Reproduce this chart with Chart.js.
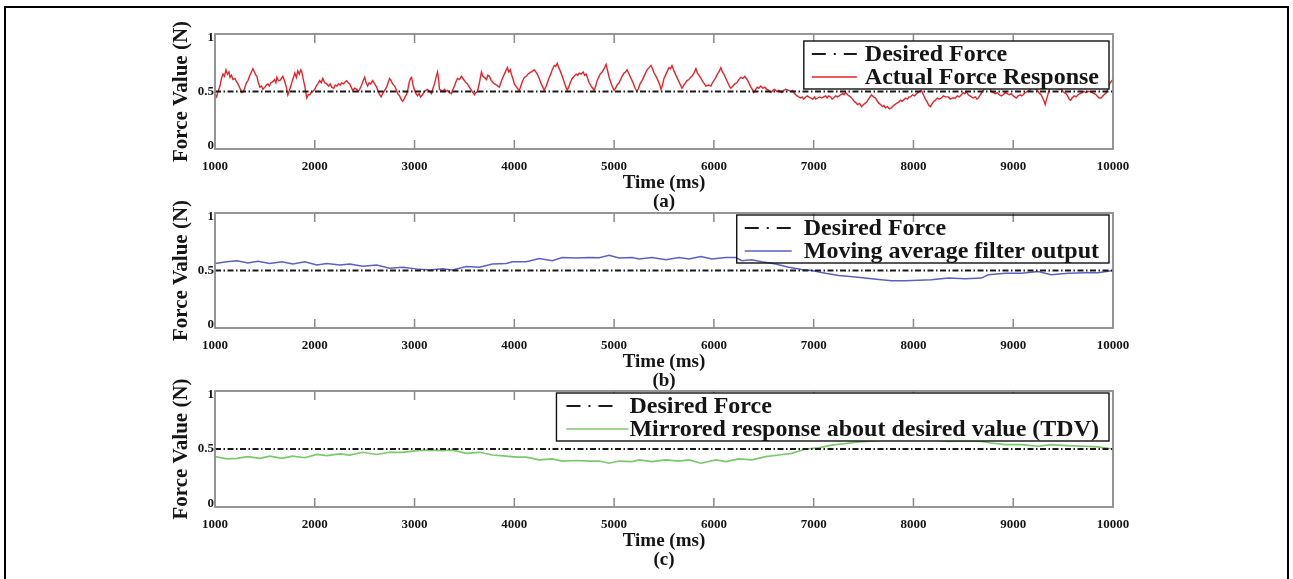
<!DOCTYPE html>
<html lang="en">
<head>
<meta charset="UTF-8">
<title>Force Response</title>
<script src="https://cdn.jsdelivr.net/npm/chart.js"></script>
<style>
    body {
        margin: 0;
        background: #fff;
        width: 1293px;
        height: 579px;
        overflow: hidden;
        position: relative;
    }

    .frame {
        position: absolute;
        left: 4px;
        top: 6px;
        width: 1281px;
        height: 600px;
        border: 2.5px solid #000;
    }

    canvas {
        position: absolute;
        left: 0;
        top: 0;
    }
</style>
</head>
<body>
<div class="frame"></div>
<canvas id="chartA" width="1293" height="579"></canvas>
<canvas id="chartB" width="1293" height="579"></canvas>
<canvas id="chartC" width="1293" height="579"></canvas>

<script>
// axes
const xTicks = [1000, 2000, 3000, 4000, 5000, 6000, 7000, 8000, 9000, 10000];
const yTicks = [0, 0.5, 1];

// desired force (constant reference)
const desiredTimes = [1000, 10000];
const desiredForce = [0.5, 0.5];

// (a) actual force response
const timeA = [
    1000, 1015, 1030, 1050, 1065, 1080, 1095, 1110, 1125, 1140, 1150, 1165, 1180, 1200, 1215, 1230, 1250, 1270, 1285, 1300,
    1315, 1330, 1345, 1360, 1380, 1395, 1410, 1420, 1435, 1450, 1465, 1480, 1500, 1515, 1530, 1545, 1560, 1580, 1595, 1610,
    1620, 1635, 1650, 1665, 1680, 1700, 1715, 1730, 1745, 1760, 1775, 1790, 1800, 1815, 1830, 1845, 1860, 1870, 1885, 1900,
    1910, 1920, 1935, 1950, 1965, 1980, 2000, 2015, 2030, 2050, 2065, 2080, 2100, 2120, 2140, 2155, 2170, 2190, 2205, 2220,
    2240, 2255, 2270, 2290, 2305, 2320, 2335, 2350, 2365, 2380, 2400, 2420, 2435, 2450, 2470, 2485, 2500, 2515, 2530, 2545,
    2560, 2580, 2600, 2620, 2635, 2650, 2665, 2680, 2700, 2720, 2735, 2750, 2765, 2780, 2800, 2815, 2830, 2850, 2865, 2880,
    2895, 2910, 2920, 2935, 2950, 2960, 2970, 2985, 3000, 3015, 3030, 3045, 3060, 3080, 3100, 3115, 3130, 3150, 3170, 3185,
    3200, 3215, 3230, 3240, 3250, 3265, 3280, 3300, 3315, 3330, 3350, 3370, 3385, 3400, 3415, 3430, 3450, 3470, 3485, 3500,
    3515, 3530, 3550, 3570, 3585, 3600, 3615, 3630, 3650, 3670, 3685, 3700, 3720, 3735, 3750, 3765, 3780, 3800, 3820, 3835,
    3850, 3865, 3880, 3900, 3915, 3930, 3945, 3960, 3970, 3985, 4000, 4015, 4030, 4050, 4065, 4080, 4100, 4120, 4135, 4150,
    4170, 4185, 4200, 4215, 4230, 4250, 4270, 4285, 4300, 4320, 4335, 4350, 4365, 4380, 4400, 4415, 4430, 4445, 4460, 4480,
    4495, 4510, 4530, 4545, 4560, 4580, 4600, 4620, 4635, 4650, 4670, 4690, 4705, 4720, 4735, 4750, 4770, 4785, 4800, 4815,
    4830, 4845, 4860, 4880, 4900, 4910, 4920, 4935, 4950, 4965, 4980, 5000, 5015, 5030, 5050, 5065, 5080, 5100, 5115, 5130,
    5145, 5160, 5180, 5195, 5210, 5230, 5245, 5260, 5280, 5295, 5310, 5330, 5350, 5370, 5385, 5400, 5420, 5440, 5455, 5470,
    5485, 5500, 5520, 5535, 5550, 5565, 5580, 5600, 5615, 5630, 5650, 5665, 5680, 5700, 5715, 5730, 5750, 5765, 5780, 5800,
    5820, 5835, 5850, 5870, 5890, 5905, 5920, 5945, 5970, 5985, 6000, 6020, 6035, 6050, 6070, 6085, 6100, 6120, 6140, 6155,
    6170, 6190, 6210, 6230, 6250, 6270, 6290, 6310, 6325, 6340, 6355, 6370, 6385, 6400, 6420, 6435, 6450, 6470, 6490, 6510,
    6530, 6550, 6570, 6590, 6610, 6630, 6650, 6680, 6700, 6720, 6750, 6770, 6790, 6800, 6820, 6835, 6850, 6870, 6885, 6900,
    6920, 6935, 6950, 6970, 6990, 7010, 7020, 7040, 7060, 7080, 7100, 7120, 7135, 7150, 7170, 7185, 7200, 7220, 7240, 7255,
    7270, 7290, 7305, 7320, 7340, 7355, 7370, 7390, 7405, 7420, 7440, 7460, 7480, 7500, 7515, 7530, 7550, 7565, 7580, 7600,
    7620, 7640, 7655, 7670, 7690, 7705, 7720, 7740, 7760, 7780, 7800, 7815, 7830, 7850, 7870, 7885, 7900, 7920, 7940, 7955,
    7970, 7990, 8010, 8030, 8045, 8060, 8080, 8095, 8110, 8120, 8140, 8155, 8170, 8190, 8205, 8220, 8240, 8260, 8280, 8300,
    8320, 8350, 8370, 8390, 8420, 8440, 8460, 8480, 8500, 8515, 8530, 8550, 8565, 8580, 8600, 8620, 8635, 8650, 8670, 8685,
    8700, 8720, 8735, 8750, 8765, 8780, 8800, 8820, 8840, 8860, 8880, 8900, 8920, 8940, 8960, 8980, 9000, 9015, 9030, 9050,
    9070, 9085, 9100, 9120, 9140, 9160, 9175, 9190, 9210, 9230, 9250, 9265, 9280, 9295, 9310, 9320, 9335, 9350, 9365, 9380,
    9400, 9420, 9440, 9460, 9480, 9500, 9515, 9530, 9545, 9560, 9575, 9590, 9610, 9630, 9650, 9670, 9690, 9710, 9730, 9750,
    9770, 9790, 9810, 9830, 9850, 9865, 9880, 9900, 9920, 9935, 9950, 9965, 9980, 10000
];
const forceA = [
    .47, .45, .50, .55, .62, .66, .64, .70, .66, .68, .63, .65, .61, .62, .59, .57, .53, .49, .50, .54,
    .58, .60, .64, .67, .71, .68, .65, .64, .58, .54, .55, .52, .54, .56, .57, .55, .58, .59, .61, .58,
    .63, .60, .60, .62, .64, .59, .54, .47, .51, .55, .60, .64, .67, .63, .69, .66, .70, .68, .61, .55,
    .49, .44, .47, .47, .49, .50, .52, .55, .57, .60, .58, .62, .58, .57, .55, .57, .54, .53, .56, .55,
    .57, .56, .58, .57, .59, .60, .58, .57, .54, .51, .53, .52, .50, .52, .56, .60, .63, .58, .55, .58,
    .57, .60, .57, .54, .50, .47, .45, .48, .51, .54, .58, .62, .60, .57, .55, .52, .48, .46, .43, .41,
    .43, .46, .47, .53, .60, .62, .63, .56, .51, .48, .46, .48, .45, .47, .50, .51, .52, .50, .48, .53,
    .57, .63, .68, .62, .52, .51, .50, .52, .50, .51, .49, .48, .52, .55, .59, .62, .61, .64, .62, .60,
    .58, .57, .54, .51, .49, .47, .49, .50, .58, .68, .64, .63, .61, .65, .64, .61, .59, .57, .56, .55,
    .54, .58, .62, .66, .69, .72, .68, .70, .66, .62, .57, .55, .53, .51, .55, .59, .63, .64, .66, .67,
    .68, .69, .70, .68, .66, .62, .57, .54, .51, .55, .59, .63, .66, .70, .74, .73, .76, .72, .69, .64,
    .60, .56, .51, .54, .58, .62, .64, .66, .65, .67, .66, .68, .65, .66, .62, .58, .55, .53, .51, .55,
    .60, .63, .66, .68, .71, .73, .75, .69, .63, .59, .55, .51, .53, .56, .58, .61, .64, .67, .68, .70,
    .67, .64, .60, .57, .53, .50, .53, .57, .60, .63, .66, .70, .72, .74, .71, .67, .64, .60, .57, .52,
    .56, .62, .66, .69, .72, .71, .74, .69, .66, .63, .59, .56, .53, .56, .58, .60, .61, .63, .64, .67,
    .71, .67, .65, .62, .59, .57, .55, .56, .55, .58, .60, .63, .66, .68, .72, .68, .66, .62, .58, .55,
    .53, .55, .57, .58, .61, .63, .62, .64, .62, .60, .57, .54, .52, .49, .52, .54, .53, .55, .53, .54,
    .52, .51, .49, .51, .52, .50, .51, .49, .51, .52, .51, .50, .51, .49, .47, .46, .45, .44, .45, .43,
    .45, .46, .45, .44, .43, .45, .43, .44, .45, .44, .45, .46, .44, .46, .45, .43, .44, .46, .45, .46,
    .47, .48, .47, .49, .47, .46, .45, .43, .41, .40, .38, .39, .36, .38, .39, .40, .43, .45, .47, .45,
    .44, .41, .39, .38, .36, .37, .35, .36, .34, .35, .37, .38, .39, .40, .42, .41, .42, .44, .43, .45,
    .45, .47, .46, .48, .49, .50, .51, .48, .45, .43, .40, .37, .36, .39, .41, .42, .44, .43, .44, .46,
    .45, .45, .43, .44, .44, .46, .45, .47, .49, .48, .50, .47, .46, .45, .44, .45, .43, .44, .47, .49,
    .51, .54, .57, .57, .53, .50, .49, .48, .49, .47, .46, .47, .49, .48, .47, .48, .46, .45, .44, .46,
    .47, .46, .47, .49, .50, .51, .52, .54, .53, .52, .50, .48, .47, .44, .41, .38, .43, .48, .53, .55,
    .57, .55, .53, .52, .52, .50, .49, .48, .46, .43, .42, .44, .46, .45, .47, .48, .49, .50, .49, .50,
    .50, .49, .48, .47, .45, .44, .44, .46, .48, .49, .53, .57, .59, .61
];

// (b) moving average filter output
const timeB = [
    1000, 1120, 1220, 1330, 1430, 1550, 1670, 1780, 1900, 2020, 2120, 2250, 2350, 2480, 2620, 2750, 2880, 3020,
    3150, 3280, 3380, 3520, 3650, 3780, 3920, 3980, 4120, 4250, 4380, 4480, 4620, 4750, 4850, 4950, 5050, 5180,
    5250, 5380, 5520, 5650, 5750, 5870, 5980, 6120, 6220, 6280, 6380, 6480, 6620, 6750, 6880, 6980, 7120, 7250,
    7420, 7580, 7780, 7920, 8050, 8180, 8350, 8520, 8680, 8750, 8920, 9080, 9250, 9380, 9550, 9720, 9850, 10000
];
const filterB = [
    0.565, 0.58, 0.59, 0.57, 0.585, 0.565, 0.58, 0.56, 0.58, 0.55, 0.565, 0.55, 0.56, 0.54, 0.55, 0.52, 0.53, 0.515,
    0.505, 0.517, 0.505, 0.536, 0.53, 0.56, 0.565, 0.58, 0.58, 0.61, 0.59, 0.62, 0.615, 0.62, 0.617, 0.64, 0.615, 0.62,
    0.607, 0.62, 0.60, 0.62, 0.607, 0.63, 0.607, 0.62, 0.62, 0.59, 0.60, 0.58, 0.56, 0.53, 0.51, 0.50, 0.475, 0.455,
    0.44, 0.425, 0.405, 0.405, 0.41, 0.415, 0.43, 0.425, 0.43, 0.46, 0.475, 0.475, 0.49, 0.46, 0.475, 0.48, 0.48, 0.50
];

// (c) mirrored response about desired value
const timeC = [
    1000, 1120, 1220, 1330, 1450, 1550, 1670, 1780, 1900, 2020, 2120, 2250, 2350, 2480, 2620, 2750, 2880, 3020,
    3150, 3280, 3380, 3520, 3650, 3780, 3920, 4020, 4120, 4250, 4380, 4480, 4620, 4750, 4850, 4950, 5050, 5180,
    5250, 5380, 5520, 5650, 5750, 5870, 6020, 6120, 6250, 6380, 6520, 6650, 6780, 6920, 7050, 7180, 7320, 7450,
    7600, 7780, 7920, 8050, 8180, 8350, 8520, 8680, 8780, 8920, 9080, 9250, 9380, 9550, 9720, 9850, 10000
];
const mirrorC = [
    0.43, 0.41, 0.415, 0.43, 0.415, 0.435, 0.415, 0.435, 0.42, 0.45, 0.44, 0.455, 0.445, 0.47, 0.45, 0.47, 0.47, 0.485,
    0.49, 0.485, 0.49, 0.46, 0.47, 0.445, 0.435, 0.425, 0.425, 0.40, 0.41, 0.39, 0.395, 0.39, 0.39, 0.37, 0.39, 0.385,
    0.40, 0.385, 0.40, 0.39, 0.40, 0.37, 0.40, 0.385, 0.41, 0.40, 0.43, 0.445, 0.46, 0.50, 0.51, 0.535, 0.55, 0.565,
    0.575, 0.59, 0.595, 0.59, 0.585, 0.57, 0.575, 0.57, 0.555, 0.54, 0.54, 0.525, 0.54, 0.53, 0.525, 0.52, 0.50
];

const serif = '"Liberation Serif", "Times New Roman", serif';
const inkColor = '#151515';

const toPoints = (xs, ys) => xs.map((x, i) => ({ x: x, y: ys[i] }));

// frame, inward x ticks and boxed legend drawn over the datasets
const panelPlugin = {
    id: 'panel',
    afterDatasetsDraw(chart, args, opts) {
        const ctx = chart.ctx;
        const area = chart.chartArea;
        const xScale = chart.scales.x;

        ctx.save();
        ctx.strokeStyle = '#8a8a8a';
        ctx.lineWidth = 1.8;
        ctx.strokeRect(area.left, area.top, area.right - area.left, area.bottom - area.top);
        ctx.lineWidth = 1.5;
        xScale.ticks.forEach(tick => {
            const px = xScale.getPixelForValue(tick.value);
            if (px <= area.left + 1 || px >= area.right - 1) return;
            ctx.beginPath();
            ctx.moveTo(px, area.top);
            ctx.lineTo(px, area.top + 9);
            ctx.moveTo(px, area.bottom);
            ctx.lineTo(px, area.bottom - 9);
            ctx.stroke();
        });

        // legend
        ctx.font = 'bold 24px ' + serif;
        const sets = chart.data.datasets;
        const textW = Math.max(...sets.map(d => ctx.measureText(d.label).width));
        const boxW = opts.padLeft + opts.sampleW + opts.gap + textW + 10;
        const right = area.right - 4;
        const left = right - boxW;
        const top = area.top + opts.top;
        const boxH = 48;
        if (opts.fill) {
            ctx.fillStyle = '#fff';
            ctx.fillRect(left, top, boxW, boxH);
        }
        ctx.strokeStyle = '#111';
        ctx.lineWidth = 1.4;
        ctx.strokeRect(left, top, boxW, boxH);

        ctx.textBaseline = 'middle';
        ctx.textAlign = 'left';
        sets.forEach((d, i) => {
            const rowY = top + 13 + i * 23;
            const sx = left + opts.padLeft;
            const sampleLen = d.borderDash ? Math.min(opts.sampleW, 48) : opts.sampleW;
            ctx.beginPath();
            ctx.strokeStyle = d.borderColor;
            ctx.lineWidth = d.borderDash ? 2 : 1.6;
            ctx.setLineDash(d.borderDash ? [14, 8, 2, 8] : []);
            ctx.moveTo(sx, rowY);
            ctx.lineTo(sx + sampleLen, rowY);
            ctx.stroke();
            ctx.setLineDash([]);
            ctx.fillStyle = inkColor;
            ctx.fillText(d.label, sx + opts.sampleW + opts.gap, rowY + 1);
        });
        ctx.restore();
    }
};

function makePanel(canvasId, p) {
    return new Chart(document.getElementById(canvasId), {
        type: 'line',
        data: {
            datasets: [
                {
                    label: 'Desired Force',
                    data: toPoints(desiredTimes, desiredForce),
                    borderColor: '#1a1a1a',
                    borderWidth: 2,
                    borderDash: [6, 2.5, 1.5, 2.5],
                    pointRadius: 0
                },
                {
                    label: p.label,
                    data: toPoints(p.times, p.values),
                    borderColor: p.color,
                    borderWidth: p.width,
                    pointRadius: 0,
                    tension: 0
                }
            ]
        },
        options: {
            responsive: false,
            animation: false,
            events: [],
            layout: {
                padding: { left: 165, right: 180, top: p.top, bottom: 579 - p.bottom - 63 }
            },
            plugins: {
                legend: { display: false },
                tooltip: { enabled: false },
                panel: p.legend
            },
            scales: {
                x: {
                    type: 'linear',
                    min: 1000,
                    max: 10000,
                    afterBuildTicks: s => { s.ticks = xTicks.map(v => ({ value: v })); },
                    afterFit: s => { s.height = 63; },
                    grid: { display: false, drawTicks: false },
                    border: { display: false },
                    ticks: {
                        font: { family: serif, size: 13, weight: 'bold' },
                        color: inkColor,
                        padding: 10,
                        maxRotation: 0,
                        autoSkip: false,
                        callback: v => String(v)
                    },
                    title: {
                        display: true,
                        text: ['Time (ms)', p.tag],
                        font: { family: serif, size: 19, weight: 'bold', lineHeight: 1 },
                        color: inkColor,
                        padding: { top: 0, bottom: 0 }
                    }
                },
                y: {
                    min: -0.03,
                    max: 1.03,
                    afterBuildTicks: s => { s.ticks = yTicks.map(v => ({ value: v })); },
                    afterFit: s => { s.width = 50; },
                    grid: { display: false, drawTicks: false },
                    border: { display: false },
                    ticks: {
                        font: { family: serif, size: 13, weight: 'bold' },
                        color: inkColor,
                        padding: 1,
                        callback: v => String(v)
                    },
                    title: {
                        display: true,
                        text: 'Force Value (N)',
                        font: { family: serif, size: 21, weight: 'bold' },
                        color: inkColor,
                        padding: { top: 4, bottom: 0 }
                    }
                }
            }
        },
        plugins: [panelPlugin]
    });
}

makePanel('chartA', {
    label: 'Actual Force Response', tag: '(a)',
    times: timeA, values: forceA, color: '#e82229', width: 1.4,
    top: 34, bottom: 149,
    legend: { top: 7, padLeft: 8, sampleW: 45, gap: 8, fill: true }
});

makePanel('chartB', {
    label: 'Moving average filter output', tag: '(b)',
    times: timeB, values: filterB, color: '#5b60c4', width: 1.5,
    top: 213, bottom: 328,
    legend: { top: 2, padLeft: 8, sampleW: 47, gap: 12, fill: false }
});

makePanel('chartC', {
    label: 'Mirrored response about desired value (TDV)', tag: '(c)',
    times: timeC, values: mirrorC, color: '#7cc86a', width: 1.7,
    top: 391, bottom: 507,
    legend: { top: 2, padLeft: 10, sampleW: 62, gap: 1, fill: true }
});
</script>
</body>
</html>
